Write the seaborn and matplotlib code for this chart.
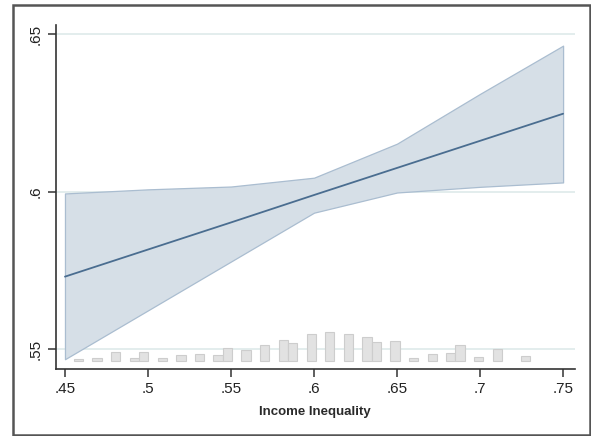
import seaborn as sns
import matplotlib.pyplot as plt
from matplotlib.patches import Rectangle
import pandas as pd

# Predicted values with 95% CI at each level of income inequality
ineq = [0.45, 0.50, 0.55, 0.60, 0.65, 0.70, 0.75]
pred = [0.5730, 0.5816, 0.5902, 0.5989, 0.6075, 0.6161, 0.6247]
ci_lo = [0.5468, 0.5623, 0.5778, 0.5933, 0.5997, 0.6015, 0.6029]
ci_hi = [0.5994, 0.6007, 0.6016, 0.6044, 0.6152, 0.6310, 0.6463]

# Distribution of income inequality (histogram drawn along the bottom)
hist_x = [0.4581, 0.4693, 0.4805, 0.4917, 0.4973, 0.5086, 0.5198, 0.5310,
          0.5422, 0.5478, 0.5590, 0.5702, 0.5815, 0.5871, 0.5983, 0.6095,
          0.6207, 0.6319, 0.6375, 0.6488, 0.6600, 0.6712, 0.6824, 0.6880,
          0.6992, 0.7105, 0.7273]
hist_h = [0.0005, 0.0009, 0.0028, 0.0009, 0.0027, 0.0009, 0.0018, 0.0020,
          0.0018, 0.0041, 0.0034, 0.0050, 0.0066, 0.0057, 0.0086, 0.0092,
          0.0084, 0.0074, 0.0060, 0.0063, 0.0008, 0.0023, 0.0025, 0.0050,
          0.0013, 0.0036, 0.0016]
hist_base = 0.5463
bin_w = 0.0056

xticks = [0.45, 0.50, 0.55, 0.60, 0.65, 0.70, 0.75]
xtick_labels = ['.45', '.5', '.55', '.6', '.65', '.7', '.75']
yticks = [0.55, 0.60, 0.65]
ytick_labels = ['.55', '.6', '.65']

df = pd.DataFrame({'ineq': ineq, 'pred': pred, 'lo': ci_lo, 'hi': ci_hi})

sns.set_style('white')
plt.rcParams['font.family'] = ['Liberation Sans', 'DejaVu Sans']

fig = plt.figure(figsize=(5.91, 4.36), dpi=100)
ax = fig.add_axes([0.0942, 0.153, 0.8788, 0.790])

# faint horizontal grid
for yv in yticks:
    ax.axhline(yv, color='#e3eded', lw=1.4, zorder=0)

# histogram of the moderator
ax.bar(hist_x, hist_h, width=bin_w, bottom=hist_base, color='#e2e2e2',
       edgecolor='#cdcdcd', linewidth=0.8, zorder=1)

# confidence band
ax.fill_between(df['ineq'], df['lo'], df['hi'], color='#d6dfe7',
                edgecolor='#aabdd0', linewidth=0.9, zorder=2)

sns.lineplot(data=df, x='ineq', y='pred', color='#4a6d90', lw=1.3, ax=ax, zorder=3)

ax.set_xlim(0.4444, 0.7572)
ax.set_ylim(0.5436, 0.6529)
ax.set_xticks(xticks)
ax.set_xticklabels(xtick_labels, fontsize=11, color='#222222')
ax.set_yticks(yticks)
ax.set_yticklabels(ytick_labels, fontsize=11, color='#222222', rotation=90, va='center')
ax.set_xlabel('Income Inequality', fontsize=9.5, fontweight='bold', color='#2a2a2a',
              labelpad=7)
ax.set_ylabel('')

ax.tick_params(axis='both', direction='out', length=5.5, width=1.1, color='#333333',
               left=True, bottom=True, pad=4)
for s in ['top', 'right']:
    ax.spines[s].set_visible(False)
for s in ['left', 'bottom']:
    ax.spines[s].set_color('#333333')
    ax.spines[s].set_linewidth(1.2)

# outer frame
fig.patches.append(Rectangle((12.5 / 591, 1 - 435 / 436), 577 / 591, 430 / 436,
                             transform=fig.transFigure, fill=False,
                             edgecolor='#555555', linewidth=1.8))

fig.savefig('out.png', dpi=100)
